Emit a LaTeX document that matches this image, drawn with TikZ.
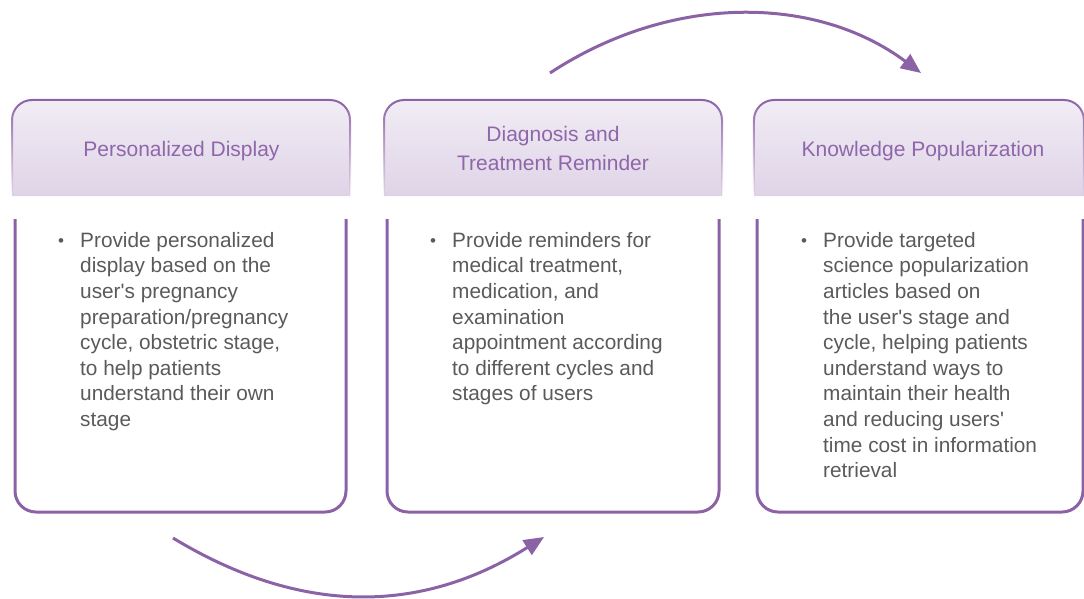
\documentclass[tikz,border=0pt]{standalone}
\usepackage{fontspec}
\setmainfont{Liberation Sans}
\usetikzlibrary{arrows.meta,fadings}

\definecolor{frame}{HTML}{8C62A6}
\definecolor{titlec}{HTML}{9066AA}
\definecolor{bodyc}{HTML}{5A5A5A}
\definecolor{hdtop}{HTML}{FAF9FC}
\definecolor{hdmid}{HTML}{DFD4E7}
\definecolor{hdbot}{HTML}{DBCFE4}

% light-to-lavender wash for the header cards, flat along the lower quarter
\pgfdeclareverticalshading{hdshade}{100bp}{color(0bp)=(hdbot); color(24bp)=(hdbot); color(26bp)=(hdmid); color(100bp)=(hdtop)}
% header outline: solid along the top, fading out down the sides
\tikzfading[name=sidefade, top color=transparent!0, bottom color=transparent!100]

\tikzset{
  headtitle/.style={font=\fontsize{21pt}{29pt}\selectfont, text=titlec, align=center, inner sep=0pt},
  bodytext/.style={font=\fontsize{20.8pt}{25.6pt}\selectfont, text=bodyc, align=left, inner sep=0pt, anchor=north west},
  bulletmark/.style={font=\fontsize{17pt}{17pt}\selectfont, text=bodyc, inner sep=0pt, anchor=base},
  headline/.style={draw=frame, line width=2pt, path fading=sidefade},
  bodyline/.style={draw=frame, line width=3pt},
  flow/.style={draw=frame, line width=3pt, -{Triangle[length=20pt,width=17pt]}}
}

\begin{document}
\begin{tikzpicture}[x=1pt,y=-1pt]
\useasboundingbox (0,0) rectangle (1084,598);

% header cards and open-topped body cards
\foreach \xa/\xb/\xc/\xd in {12/350/15/346, 384/722/387/719, 754/1084/757/1083}{
  \shade[shading=hdshade, rounded corners=20pt] (\xa,196) -- (\xa,100) -- (\xb,100) -- (\xb,196);
  \path[headline, rounded corners=20pt] (\xa,196) -- (\xa,100) -- (\xb,100) -- (\xb,196);
  \path[bodyline, rounded corners=21pt] (\xc,219) -- (\xc,512) -- (\xd,512) -- (\xd,219);
}

% header titles
\node[headtitle] (h1) at (181.5,150.7) {Personalized Display};
\node[headtitle] (h2) at (553,148) {Diagnosis and\\Treatment Reminder};
\node[headtitle] (h3) at (923,150.7) {Knowledge Popularization};

% body bullets
\node[bulletmark] (b1) at (61,246) {•};
\node[bulletmark] (b2) at (433,246) {•};
\node[bulletmark] (b3) at (804,246) {•};

\node[bodytext] (t1) at (80,232) {Provide personalized\\display based on the\\user\textquotesingle s pregnancy\\preparation/pregnancy\\cycle, obstetric stage,\\to help patients\\understand their own\\stage};
\node[bodytext] (t2) at (452,232) {Provide reminders for\\medical treatment,\\medication, and\\examination\\appointment according\\to different cycles and\\stages of users};
\node[bodytext] (t3) at (823,232) {Provide targeted\\science popularization\\articles based on\\the user\textquotesingle s stage and\\cycle, helping patients\\understand ways to\\maintain their health\\and reducing users\textquotesingle\\time cost in information\\retrieval};

% flow arrows between the stages
\coordinate (a1s) at (173,538);
\coordinate (a1e) at (544,537);
\coordinate (a2s) at (550,73);
\coordinate (a2e) at (921,73);
\draw[flow] (a1s) .. controls (300,615) and (420,615) .. (a1e);
\draw[flow] (a2s) .. controls (670,-6) and (815,-6) .. (a2e);
\end{tikzpicture}
\end{document}
